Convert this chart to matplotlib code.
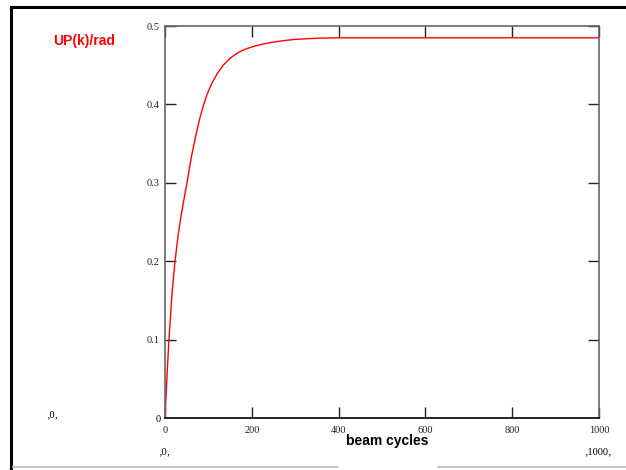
import matplotlib
matplotlib.use('Agg')
import matplotlib.pyplot as plt
from matplotlib.lines import Line2D

# Werte
k = [0, 5, 9, 16, 23, 30, 37, 44, 50, 60, 70, 80, 88, 97, 107, 120, 134,
     150, 168, 185, 203, 225, 249, 275, 300, 350, 400, 600, 800, 1000]
up = [0, 0.058, 0.1, 0.158, 0.2, 0.232, 0.258, 0.28, 0.298, 0.331, 0.358,
      0.382, 0.398, 0.413, 0.426, 0.439, 0.45, 0.459, 0.466, 0.4705,
      0.4738, 0.477, 0.4795, 0.4815, 0.483, 0.4845, 0.485, 0.485, 0.485,
      0.485]

xticks = [0, 200, 400, 600, 800, 1000]
yticks = [0.1, 0.2, 0.3, 0.4, 0.5]

fig = plt.figure(figsize=(6.26, 4.70), dpi=100)
ax = fig.add_axes([0.2636, 0.1106, 0.6933, 0.834])

ax.plot(k, up, color='red', linewidth=1.0)

ax.set_xlim(0, 1000)
ax.set_ylim(0, 0.5)
ax.set_xticks(xticks)
ax.set_yticks(yticks)
ax.set_xticklabels([str(t) for t in xticks], family='Liberation Serif', fontsize=7.5)
ax.set_yticklabels([f'{t:.1f}' for t in yticks], family='Liberation Serif', fontsize=7.5)
ax.tick_params(direction='in', length=8, width=1, top=True, right=True,
               color='#222222', labelcolor='#222222', pad=4)
ax.tick_params(axis='x', pad=6)

for s in ['left', 'top', 'right']:
    ax.spines[s].set_color('#666666')
    ax.spines[s].set_linewidth(1.2)
ax.spines['bottom'].set_color('black')
ax.spines['bottom'].set_linewidth(1.2)

# Achsenbeschriftungen
fig.text(0.085, 0.912, 'UP(k)/rad', color='red', fontsize=10, weight='bold',
         family='Liberation Sans', ha='left', va='center')
fig.text(0.618, 0.062, 'beam cycles', color='black', fontsize=10, weight='bold',
         family='Liberation Sans', ha='center', va='center')

# Grenzmarken
fig.text(0.257, 0.108, '0', fontsize=7.5, family='Liberation Serif', ha='right', va='center')
fig.text(0.083, 0.118, '\u201a0\u201a', fontsize=7.5, family='Liberation Serif', ha='center', va='center')
fig.text(0.262, 0.038, '\u201a0\u201a', fontsize=7.5, family='Liberation Serif', ha='center', va='center')
fig.text(0.955, 0.038, '\u201a1000\u201a', fontsize=7.5, family='Liberation Serif', ha='center', va='center')

# Rahmen
fig.add_artist(Line2D([0.018, 1.0], [0.986, 0.986], color='black', linewidth=2.2,
                      transform=fig.transFigure))
fig.add_artist(Line2D([0.018, 0.018], [0.0, 0.986], color='black', linewidth=2.2,
                      transform=fig.transFigure))
fig.add_artist(Line2D([0.02, 0.54], [0.006, 0.006], color='#bbbbbb', linewidth=1.2,
                      transform=fig.transFigure))
fig.add_artist(Line2D([0.70, 1.0], [0.006, 0.006], color='#bbbbbb', linewidth=1.2,
                      transform=fig.transFigure))

plt.savefig('out.png', dpi=100)
plt.close()
